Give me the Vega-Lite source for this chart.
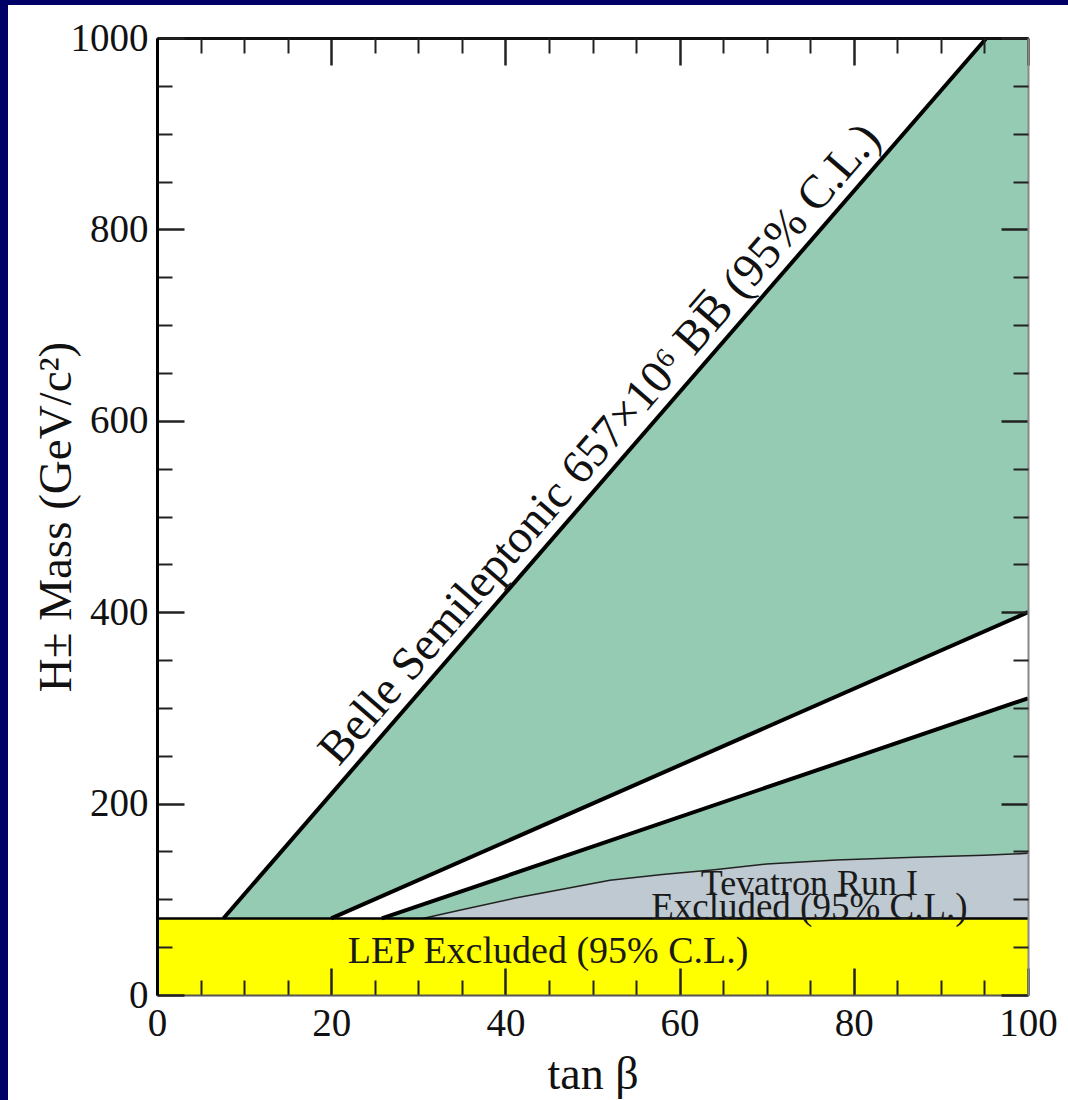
{
  "$schema": "https://vega.github.io/schema/vega-lite/v6.json",
  "width": 1060,
  "height": 1095,
  "autosize": "none",
  "padding": {"left": 8, "top": 5, "right": 0, "bottom": 0},
  "background": "#000066",
  "config": {"view": {"fill": "white", "stroke": null}, "font": "Liberation Serif"},
  "datasets": {
    "green": [{"x": 7.62, "y": 80}, {"x": 95.24, "y": 1000}, {"x": 100, "y": 1000}],
    "band": [{"x": 20, "y": 80, "y2": 80}, {"x": 25.81, "y": 103.2, "y2": 80}, {"x": 100, "y": 400, "y2": 310}],
    "tev": [{"x": 30.5, "y": 80}, {"x": 35, "y": 89}, {"x": 41, "y": 101}, {"x": 45, "y": 108}, {"x": 52, "y": 120}, {"x": 58, "y": 126}, {"x": 64, "y": 131}, {"x": 70, "y": 137}, {"x": 78, "y": 141}, {"x": 87, "y": 144}, {"x": 95, "y": 146}, {"x": 100, "y": 148}],
    "lep": [{"x": 0, "x2": 100, "y": 0, "y2": 80}],
    "bounds": [
      {"s": "belle", "x": 7.62, "y": 80}, {"s": "belle", "x": 95.24, "y": 1000},
      {"s": "upper", "x": 20, "y": 80}, {"s": "upper", "x": 100, "y": 400},
      {"s": "lower", "x": 25.81, "y": 80}, {"s": "lower", "x": 100, "y": 310}
    ],
    "lepline": [{"x": 0, "x2": 100, "y": 80}],
    "labels": [
      {"x": 44.9, "y": 33.5, "t": "LEP Excluded (95% C.L.)", "fs": 38},
      {"x": 74.9, "y": 105, "t": "Tevatron Run I", "fs": 36},
      {"x": 74.9, "y": 79.5, "t": "Excluded (95% C.L.)", "fs": 37}
    ],
    "belle": [{"x": 53.1, "y": 557.6, "t": "Belle Semileptonic 657×10⁶ BB̅ (95% C.L.)"}]
  },
  "resolve": {"axis": {"x": "independent", "y": "independent"}},
  "layer": [
    {
      "data": {"name": "green"},
      "mark": {"type": "area", "color": "#95CAB3", "opacity": 1, "orient": "vertical"},
      "encoding": {
        "x": {"field": "x", "type": "quantitative", "scale": {"domain": [0, 100], "range": [149, 1020], "nice": false, "zero": false}, "axis": null},
        "y": {"field": "y", "type": "quantitative", "scale": {"domain": [0, 1000], "range": [990, 33], "nice": false, "zero": false}, "axis": null},
        "y2": {"datum": 80}
      }
    },
    {
      "data": {"name": "band"},
      "mark": {"type": "area", "color": "#ffffff", "opacity": 1, "orient": "vertical"},
      "encoding": {
        "x": {"field": "x", "type": "quantitative", "axis": null},
        "y": {"field": "y", "type": "quantitative", "axis": null},
        "y2": {"field": "y2"}
      }
    },
    {
      "data": {"name": "tev"},
      "mark": {"type": "area", "color": "#BEC9D1", "opacity": 1, "orient": "vertical"},
      "encoding": {
        "x": {"field": "x", "type": "quantitative", "axis": null},
        "y": {"field": "y", "type": "quantitative", "axis": null},
        "y2": {"datum": 80}
      }
    },
    {
      "data": {"name": "lep"},
      "mark": {"type": "rect", "color": "#FFFF00"},
      "encoding": {
        "x": {"field": "x", "type": "quantitative", "axis": null},
        "x2": {"field": "x2"},
        "y": {"field": "y", "type": "quantitative", "axis": null},
        "y2": {"field": "y2"}
      }
    },
    {
      "data": {"name": "tev"},
      "mark": {"type": "line", "color": "#222222", "strokeWidth": 1.5},
      "encoding": {
        "x": {"field": "x", "type": "quantitative", "axis": {
          "orient": "bottom", "offset": -105, "zindex": 1,
          "values": [5,10,15,25,30,35,45,50,55,65,70,75,85,90,95],
          "tickSize": -15, "tickWidth": 2, "tickColor": "#222222",
          "labels": false, "domain": false, "grid": false, "title": null
        }},
        "y": {"field": "y", "type": "quantitative", "axis": {
          "orient": "left", "offset": -149, "zindex": 1,
          "values": [50,100,150,250,300,350,450,500,550,650,700,750,850,900,950],
          "tickSize": -15, "tickWidth": 2, "tickColor": "#222222",
          "labels": false, "domain": false, "grid": false, "title": null
        }}
      }
    },
    {
      "data": {"name": "bounds"},
      "mark": {"type": "line", "color": "#000000", "strokeWidth": 4},
      "encoding": {
        "x": {"field": "x", "type": "quantitative", "axis": {
          "orient": "top", "offset": -33, "zindex": 1,
          "values": [0,20,40,60,80,100],
          "tickSize": -27, "tickWidth": 2.5, "tickColor": "#222222",
          "labels": false, "grid": false, "title": null,
          "domainColor": "#111111", "domainWidth": 3
        }},
        "y": {"field": "y", "type": "quantitative", "axis": {
          "orient": "right", "offset": -40, "zindex": 1,
          "values": [0,200,400,600,800,1000],
          "tickSize": -27, "tickWidth": 2.5, "tickColor": "#222222",
          "labels": false, "grid": false, "title": null,
          "domainColor": "#888888", "domainWidth": 2
        }},
        "detail": {"field": "s"}
      }
    },
    {
      "data": {"name": "lepline"},
      "mark": {"type": "rule", "color": "#000000", "strokeWidth": 2.5},
      "encoding": {
        "x": {"field": "x", "type": "quantitative", "axis": {
          "orient": "bottom", "offset": -105, "zindex": 1,
          "values": [0,20,40,60,80,100],
          "tickSize": -27, "tickWidth": 2.5, "tickColor": "#222222",
          "format": "d",
          "labelFont": "Liberation Serif", "labelFontSize": 39, "labelColor": "#111111",
          "labelPadding": 36, "labelFlush": false, "labelOverlap": false, "labelBound": false,
          "grid": false, "domainColor": "#555555", "domainWidth": 2,
          "title": "tan β", "titleFont": "Liberation Serif", "titleFontSize": 46, "titleFontWeight": "normal",
          "titleColor": "#111111", "titleX": 584.5, "titleY": 93, "titleBaseline": "alphabetic"
        }},
        "x2": {"field": "x2"},
        "y": {"field": "y", "type": "quantitative", "axis": {
          "orient": "left", "offset": -149, "zindex": 1,
          "values": [0,200,400,600,800,1000],
          "tickSize": -27, "tickWidth": 2.5, "tickColor": "#222222",
          "format": "d",
          "labelFont": "Liberation Serif", "labelFontSize": 39, "labelColor": "#111111",
          "labelPadding": 36, "labelFlush": false, "labelOverlap": false, "labelBound": false,
          "grid": false, "domainColor": "#000000", "domainWidth": 3,
          "title": "H± Mass (GeV/c²)", "titleFont": "Liberation Serif", "titleFontSize": 47, "titleFontWeight": "normal",
          "titleColor": "#111111", "titleX": -87, "titleY": 511.5, "titleAngle": 270, "titleBaseline": "alphabetic"
        }}
      }
    },
    {
      "data": {"name": "labels"},
      "mark": {"type": "text", "font": "Liberation Serif", "color": "#1a1a1a", "align": "center", "baseline": "alphabetic"},
      "encoding": {
        "x": {"field": "x", "type": "quantitative", "axis": {
          "orient": "top", "offset": -33, "zindex": 1,
          "values": [5,10,15,25,30,35,45,50,55,65,70,75,85,90,95],
          "tickSize": -15, "tickWidth": 2, "tickColor": "#222222",
          "labels": false, "domain": false, "grid": false, "title": null
        }},
        "y": {"field": "y", "type": "quantitative", "axis": {
          "orient": "right", "offset": -40, "zindex": 1,
          "values": [50,100,150,250,300,350,450,500,550,650,700,750,850,900,950],
          "tickSize": -15, "tickWidth": 2, "tickColor": "#222222",
          "labels": false, "domain": false, "grid": false, "title": null
        }},
        "text": {"field": "t"},
        "size": {"field": "fs", "type": "quantitative", "scale": null, "legend": null}
      }
    },
    {
      "data": {"name": "belle"},
      "mark": {"type": "text", "font": "Liberation Serif", "fontSize": 47, "color": "#111111", "align": "center", "baseline": "alphabetic", "angle": 310.9, "dy": -12},
      "encoding": {
        "x": {"field": "x", "type": "quantitative", "axis": null},
        "y": {"field": "y", "type": "quantitative", "axis": null},
        "text": {"field": "t"}
      }
    }
  ]
}
